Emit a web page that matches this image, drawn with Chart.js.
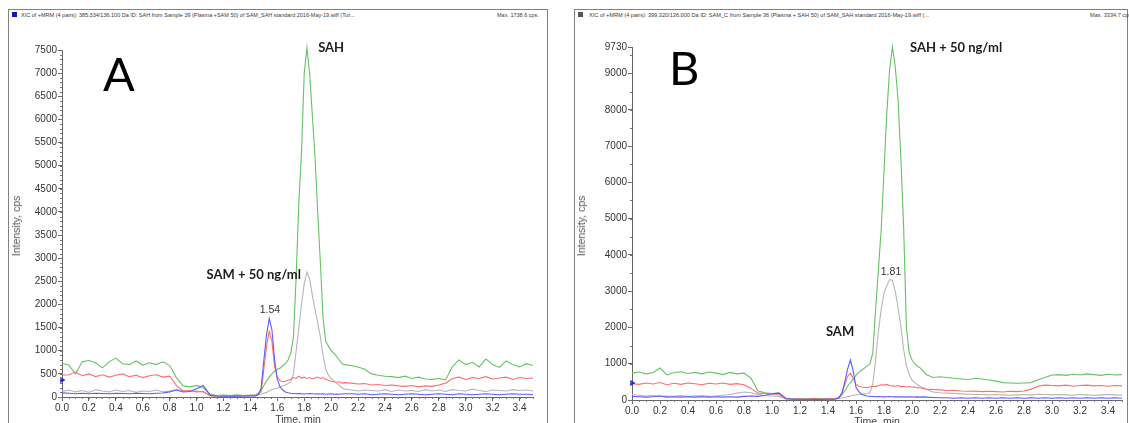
<!DOCTYPE html>
<html><head><meta charset="utf-8">
<script src="https://cdn.jsdelivr.net/npm/chart.js@4.4.0/dist/chart.umd.min.js"></script>
<style>
html,body{margin:0;padding:0;background:#fff;}
body{width:1129px;height:423px;overflow:hidden;position:relative;}
.frame{position:absolute;border:1px solid #808080;border-bottom:none;box-sizing:border-box;overflow:hidden;}
.hdr{position:absolute;font-family:"Liberation Sans",Arial,sans-serif;color:#3a3a3a;white-space:nowrap;line-height:6px;}
.sq{position:absolute;width:5px;height:5px;}
.ytitle{position:absolute;font:10.5px "Liberation Sans",Arial,sans-serif;color:#555;white-space:nowrap;transform:translate(-50%,-50%) rotate(-90deg);}
.xtitle{position:absolute;font:10.5px "Liberation Sans",Arial,sans-serif;color:#444;white-space:nowrap;transform:translate(-50%,-50%);}
.big{position:absolute;font:47px Lato,"Open Sans",sans-serif;color:#000;line-height:47px;}
canvas{position:absolute;}
</style>
</head><body>
<div class="frame" style="left:8px;top:9px;width:540px;height:414px;"></div>
<div class="frame" style="left:574px;top:9px;width:554px;height:414px;"></div>
<div class="sq" style="left:12px;top:12px;background:#1515c8;"></div>
<div class="hdr" style="left:21px;top:12px;font-size:5.5px;">XIC of +MRM (4 pairs): 385.334/136.100 Da ID: SAH from Sample 39 (Plasma +SAM 50) of SAM_SAH standard 2016-May-19.wiff (Tur...</div>
<div class="hdr" style="left:497px;top:12px;font-size:5.5px;">Max. 1738.6 cps.</div>
<div class="sq" style="left:578px;top:12px;background:#555;"></div>
<div class="hdr" style="left:589px;top:12px;font-size:5.6px;">XIC of +MRM (4 pairs): 399.320/136.000 Da ID: SAM_C from Sample 36 (Plasma + SAH 50) of SAM_SAH standard 2016-May-19.wiff (...</div>
<div class="hdr" style="left:1090px;top:12px;font-size:5.6px;">Max. 3334.7 cps.</div>
<canvas id="cA" width="540" height="423" style="left:8px;top:0;"></canvas>
<canvas id="cB" width="553" height="423" style="left:574px;top:0;"></canvas>
<div class="ytitle" style="left:16px;top:226px;">Intensity, cps</div>
<div class="ytitle" style="left:581px;top:226px;">Intensity, cps</div>
<div class="xtitle" style="left:298px;top:419px;">Time, min</div>
<div class="xtitle" style="left:877px;top:421px;">Time, min</div>
<div class="big" style="left:103px;top:50px;">A</div>
<div class="big" style="left:669px;top:44px;">B</div>
<script>
// ---- data ----
const T = [0,0.05,0.1,0.15,0.2,0.25,0.3,0.35,0.4,0.45,0.5,0.55,0.6,0.65,0.7,0.75,0.8,0.85,0.9,0.95,1.0,1.05,1.1,1.15,1.2,1.25,1.3,1.35,1.4,
 1.42,1.44,1.46,1.48,1.5,1.52,1.54,1.56,1.58,1.6,1.62,1.64,1.66,1.68,1.7,1.72,1.74,1.76,1.78,1.8,1.82,1.84,1.86,1.88,1.9,1.92,1.94,1.96,1.98,2.0,2.02,2.04,2.06,2.08,2.1,
 2.15,2.2,2.25,2.3,2.35,2.4,2.45,2.5,2.55,2.6,2.65,2.7,2.75,2.8,2.85,2.9,2.95,3.0,3.05,3.1,3.15,3.2,3.25,3.3,3.35,3.4,3.45,3.5];

const A_green = [730,690,500,760,790,740,630,760,840,720,700,780,690,740,700,760,680,420,240,220,250,200,60,30,40,30,50,30,40,
 40,50,80,150,250,350,430,500,560,600,620,680,720,800,950,1300,2600,4200,5300,7000,7550,7000,6100,5200,4000,2900,1700,1200,1100,1000,950,880,800,720,700,
 680,650,600,500,470,450,440,420,450,400,430,390,380,400,370,650,800,700,750,650,820,700,640,780,700,650,720,680];
const A_red = [470,480,540,460,500,440,480,430,470,500,440,470,420,460,480,430,450,250,130,140,110,120,30,20,30,20,30,25,30,
 30,30,50,120,600,1100,1420,1200,650,430,350,330,340,360,380,420,400,450,410,430,400,420,390,410,430,400,420,380,360,340,330,320,330,300,310,
 300,280,290,260,270,250,260,240,230,250,220,240,230,260,300,400,430,380,420,400,440,390,410,430,380,420,400,410];
const A_grey = [120,150,110,140,100,160,130,110,150,120,140,100,130,120,150,110,130,160,140,120,130,110,30,20,20,25,20,30,30,
 40,40,50,60,80,100,130,160,180,190,220,240,260,290,330,500,1000,1500,2000,2450,2700,2550,2200,1900,1600,1300,900,600,470,400,350,300,250,200,170,
 150,130,150,140,130,160,120,150,130,140,120,160,130,150,120,160,140,130,170,140,120,150,140,130,160,140,150,130];
const A_blue = [90,80,70,80,70,80,75,70,80,75,70,80,75,70,80,85,110,150,110,120,180,250,40,20,15,20,15,20,20,
 20,25,60,200,800,1350,1700,1450,800,380,220,150,110,90,80,75,70,75,70,65,70,75,70,65,70,65,70,60,65,70,60,65,60,65,70,
 70,60,70,50,60,70,60,50,60,70,60,50,60,70,60,50,70,60,50,60,70,60,50,60,70,60,60,50];

const B_green = [740,770,720,750,880,690,760,780,730,760,720,770,740,700,760,720,740,600,250,200,180,200,40,30,30,40,30,40,30,
 30,30,40,80,150,250,380,480,580,680,760,820,880,940,1000,1300,2500,3600,4700,6300,7900,9100,9740,9200,8300,6700,4800,2000,1300,1100,1000,930,880,800,700,
 620,640,620,600,580,560,600,580,550,520,480,470,460,470,480,560,620,690,700,680,710,690,720,700,680,710,690,700];
const B_red = [450,430,470,440,480,420,460,430,470,450,420,460,440,470,430,450,420,320,190,180,170,150,30,20,30,20,40,20,30,
 30,30,40,80,200,420,650,740,600,430,380,360,350,340,360,380,370,400,420,410,430,400,390,380,400,370,380,360,370,350,360,340,330,320,300,
 290,280,260,270,250,240,250,230,240,230,220,240,230,250,300,380,410,400,390,410,380,400,410,390,400,380,400,390];
const B_grey = [150,130,110,120,100,110,100,120,100,110,120,100,110,130,150,190,220,200,150,120,110,100,30,20,20,30,20,20,30,
 30,30,40,50,60,70,90,110,130,140,150,160,170,180,200,450,1100,1900,2500,2950,3150,3320,3300,3000,2550,2050,1400,950,700,550,480,420,370,340,300,
 220,200,190,180,170,160,150,150,140,150,140,130,140,150,140,160,150,140,150,140,130,150,140,130,140,150,140,130];
const B_blue = [100,90,80,90,110,80,90,80,90,80,90,80,90,80,90,80,100,110,100,130,170,190,40,20,20,15,20,15,20,
 20,20,30,60,200,500,850,1100,800,350,230,160,130,110,100,95,90,95,90,85,90,95,90,85,90,85,90,80,85,90,80,85,80,85,80,
 70,60,60,50,60,50,60,50,60,50,60,50,60,50,60,50,60,50,60,50,60,50,60,50,60,50,60,50];

const X_TICKS = [0,0.2,0.4,0.6,0.8,1.0,1.2,1.4,1.6,1.8,2.0,2.2,2.4,2.6,2.8,3.0,3.2,3.4];
const A_Y_TICKS = [0,500,1000,1500,2000,2500,3000,3500,4000,4500,5000,5500,6000,6500,7000,7500];
const B_Y_TICKS = [0,1000,2000,3000,4000,5000,6000,7000,8000,9000,9730];
const A_MARKER = 370;
const B_MARKER = 470;

const A_NOTES = [
  {text:'SAH', x:2.0, y:7540, bold:true},
  {text:'SAM + 50 ng/ml', x:1.425, y:2640, bold:true},
  {text:'1.54', x:1.545, y:1880, bold:false}
];
const B_NOTES = [
  {text:'SAH + 50 ng/ml', x:2.315, y:9700, bold:true},
  {text:'1.81', x:1.85, y:3530, bold:false},
  {text:'SAM', x:1.486, y:1870, bold:true}
];

const COLORS = {green:'#66c266', red:'#ff6e6e', grey:'#b6b6b6', blue:'#5c5cff'};

function series(vals){ return T.map((t,i)=>({x:t, y:vals[i]})); }

const minorPlugin = {
  id:'minor',
  afterDraw(chart, args, o){
    const ctx = chart.ctx, xs = chart.scales.x, ys = chart.scales.y;
    ctx.save(); ctx.strokeStyle = '#777'; ctx.lineWidth = 1; ctx.beginPath();
    for (let v = 0; v <= ys.max + 1e-6; v += o.yStep) {
      const p = Math.round(ys.getPixelForValue(v)) + 0.5;
      ctx.moveTo(xs.left - 2, p); ctx.lineTo(xs.left, p);
    }
    for (let v = 0; v <= xs.max + 1e-6; v += o.xStep) {
      const p = Math.round(xs.getPixelForValue(v)) + 0.5;
      ctx.moveTo(p, ys.bottom); ctx.lineTo(p, ys.bottom + 2);
    }
    ctx.stroke(); ctx.restore();
  }
};
const notesPlugin = {
  id:'notes',
  afterDraw(chart, args, o){
    const ctx = chart.ctx, xs = chart.scales.x, ys = chart.scales.y;
    ctx.save(); ctx.textAlign = 'center'; ctx.textBaseline = 'middle';
    for (const n of o.items) {
      ctx.font = n.bold ? 'bold 13px Lato, "Open Sans", sans-serif' : '10.5px "Liberation Sans", Arial, sans-serif';
      ctx.fillStyle = n.bold ? '#1e1e1e' : '#333';
      ctx.fillText(n.text, xs.getPixelForValue(n.x), ys.getPixelForValue(n.y));
    }
    ctx.restore();
  }
};

function makeChart(id, c){
  const line = (vals, col) => ({data: series(vals), borderColor: col, borderWidth: 1.1, pointRadius: 0, tension: 0, fill: false, clip: false});
  const tickFont = {family: '"Liberation Sans", Arial, sans-serif', size: 10};
  new Chart(document.getElementById(id), {
    type: 'line',
    data: { datasets: [
      {type:'scatter', data:[{x:0, y:c.marker}], pointStyle:'triangle', rotation:90, pointRadius:3.5, backgroundColor:'#2020ff', borderWidth:0, clip:false},
      line(c.blue, COLORS.blue),
      line(c.red, COLORS.red),
      line(c.grey, COLORS.grey),
      line(c.green, COLORS.green)
    ]},
    options: {
      responsive: false, animation: false, devicePixelRatio: 1,
      layout: {padding: c.padding},
      plugins: {legend: {display: false}, tooltip: {enabled: false},
        minor: {xStep: 0.05, yStep: c.yMinor}, notes: {items: c.notes}},
      scales: {
        x: {type: 'linear', min: 0, max: 3.5,
          afterBuildTicks: s => { s.ticks = X_TICKS.map(v => ({value: v})); },
          afterFit: s => { s.height = c.xH; },
          ticks: {callback: v => Number(v).toFixed(1), font: tickFont, color: '#333', padding: 1, maxRotation: 0, autoSkip: false},
          grid: {drawOnChartArea: false, tickLength: 4, color: '#666'},
          border: {color: '#666'}},
        y: {type: 'linear', min: 0, max: c.yMax,
          afterBuildTicks: s => { s.ticks = c.yTicks.map(v => ({value: v})); },
          afterFit: s => { s.width = c.yW; },
          ticks: {callback: v => String(v), font: tickFont, color: '#333', padding: 1, autoSkip: false},
          grid: {drawOnChartArea: false, tickLength: 4, color: '#666'},
          border: {color: '#666'}}
      }
    },
    plugins: [minorPlugin, notesPlugin]
  });
}

makeChart('cA', {green: A_green, red: A_red, grey: A_grey, blue: A_blue, marker: A_MARKER,
  yMax: 7500, yTicks: A_Y_TICKS, yMinor: 100, notes: A_NOTES,
  padding: {left: 0, top: 50, right: 15, bottom: 0}, yW: 54, xH: 26});
makeChart('cB', {green: B_green, red: B_red, grey: B_grey, blue: B_blue, marker: B_MARKER,
  yMax: 9730, yTicks: B_Y_TICKS, yMinor: 500, notes: B_NOTES,
  padding: {left: 0, top: 47, right: 5, bottom: 0}, yW: 58, xH: 23});
</script>
</body></html>
